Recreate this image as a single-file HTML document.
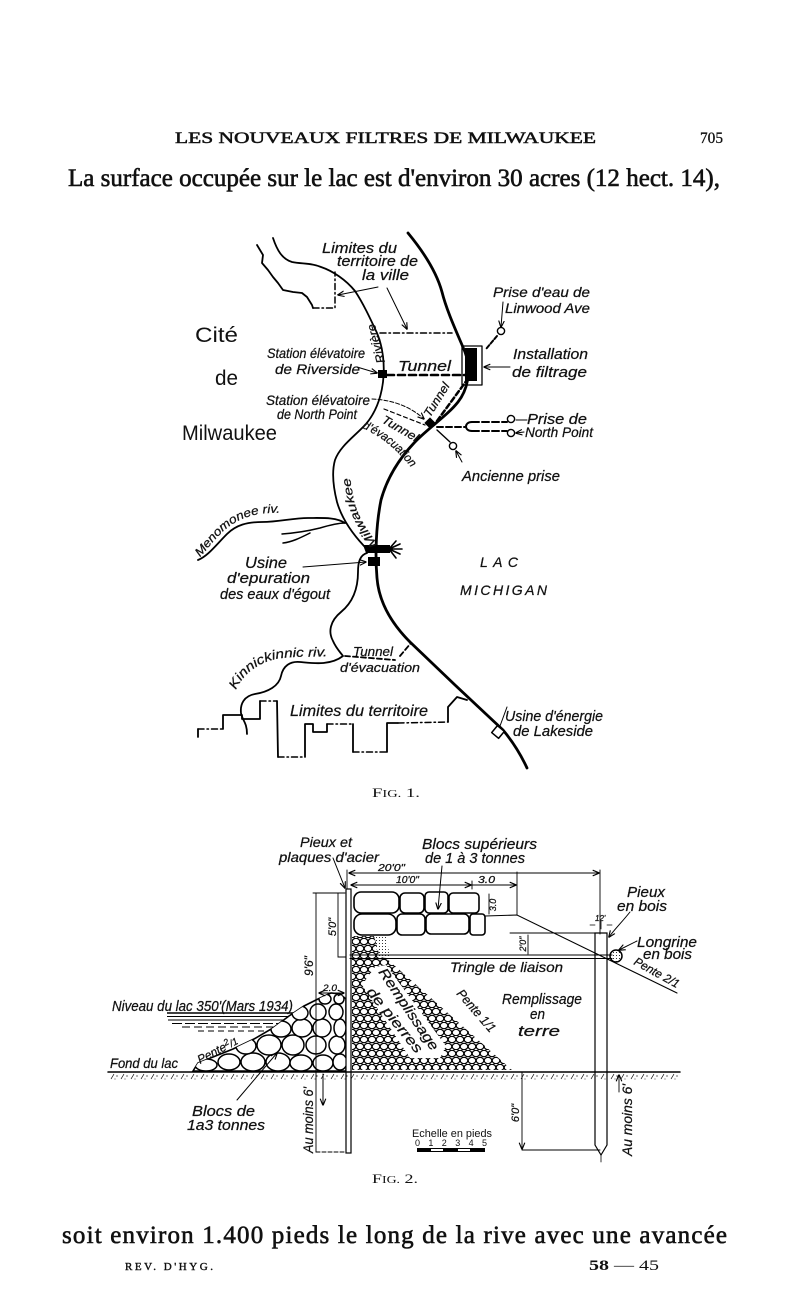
<!DOCTYPE html>
<html><head><meta charset="utf-8"><style>
html,body{margin:0;padding:0;background:#fff;}
svg{display:block}
.s{font-family:"Liberation Serif",serif;fill:#111;}
.h{font-family:"Liberation Sans",sans-serif;font-style:italic;fill:#111;stroke:#111;stroke-width:0.25;}
.u{font-family:"Liberation Sans",sans-serif;fill:#111;}
</style></head><body>
<svg width="800" height="1304" viewBox="0 0 800 1304" xmlns="http://www.w3.org/2000/svg">
<defs>
<marker id="a" viewBox="0 0 10 10" refX="9" refY="5" markerWidth="7" markerHeight="7" orient="auto-start-reverse" markerUnits="userSpaceOnUse"><path d="M0,1 L10,5 L0,9" fill="none" stroke="#000" stroke-width="1.6"/></marker>
<pattern id="peb" width="16" height="14" patternUnits="userSpaceOnUse">
<g fill="#fff" stroke="#000" stroke-width="1.2">
<ellipse cx="4" cy="3.5" rx="3.8" ry="3.2"/><ellipse cx="12" cy="3.5" rx="3.8" ry="3.2"/>
<ellipse cx="0" cy="10.5" rx="3.8" ry="3.2"/><ellipse cx="8" cy="10.5" rx="3.8" ry="3.2"/><ellipse cx="16" cy="10.5" rx="3.8" ry="3.2"/>
</g></pattern>
<pattern id="gh" width="10" height="8" patternUnits="userSpaceOnUse"><path d="M1,7 L4,2" stroke="#000" stroke-width="0.7"/><circle cx="7" cy="4" r="0.6" fill="#000"/><circle cx="5" cy="7" r="0.45" fill="#000"/></pattern>
<pattern id="dt" width="3" height="3" patternUnits="userSpaceOnUse"><circle cx="1.5" cy="1.5" r="0.55" fill="#000"/></pattern>
<mask id="pm" maskUnits="userSpaceOnUse" x="340" y="925" width="190" height="150">
<polygon points="352,936 374,936 380,957 386,958 512,1070 352,1070" fill="#fff"/>
<polygon points="362,985 375,967 386,965 446,1046 440,1058 410,1058" fill="#000"/>
</mask>
<clipPath id="pc"><path d="M193,1071 L198,1063 L213,1057 L233,1049 L254,1039 L273,1028 L289,1016 L304,1006 L318,999 L331,993 L340,994 L346,999 L346,1071 Z"/></clipPath>
<path id="pMen" d="M200,557 C210,547 220,530 238,521 C250,515 262,512 284,513"/>
<path id="pMil" d="M378,545 C368,530 358,518 354,500 C352,490 350,480 349,466"/>
<path id="pKin" d="M236,690 C244,672 262,660 283,658 C300,656 316,657 336,656"/>
<path id="pEva" d="M362,428 Q395,442 420,480"/>
</defs>

<!-- HEADER -->
<text class="s" x="175" y="143" font-size="16" textLength="421" lengthAdjust="spacingAndGlyphs" stroke="#111" stroke-width="0.5">LES NOUVEAUX FILTRES DE MILWAUKEE</text>
<text class="s" x="700" y="143" font-size="16" textLength="23" lengthAdjust="spacingAndGlyphs" stroke="#111" stroke-width="0.3">705</text>
<text class="s" x="68" y="186" font-size="25" textLength="652" lengthAdjust="spacingAndGlyphs" stroke="#111" stroke-width="0.6">La surface occupée sur le lac est d'environ 30 acres (12 hect. 14),</text>

<!-- FIG 1 -->
<g fill="none" stroke="#000" stroke-linecap="round" stroke-linejoin="round">
<path d="M408,233 C422,250 436,270 442,292 C447,312 458,335 465,352 C471,368 469,388 458,402 C447,416 428,428 414,443 C399,459 387,478 381,500 C376,525 375,555 377,578 C379,603 392,624 410,642 L455,685 L503,730 C513,742 521,755 527,768" stroke-width="2.8"/>
<path d="M273,238 C277,250 282,259 292,262 C302,264 312,263 321,267 C333,271 346,280 355,291 C363,303 370,318 377,333 C383,347 385,365 383,382 C381,398 376,412 366,424 C355,436 340,446 335,460 C331,474 334,490 337,502 C341,516 350,531 364,546" stroke-width="1.8"/>
<path d="M367,553 C360,555 358,562 358,572 C358,590 352,603 341,612 C330,621 328,632 333,641 C336,648 340,652 343,656 C330,666 312,663 300,662 C290,661 283,666 281,676 C279,686 268,692 255,694 C244,696 240,704 241,713 C242,720 247,722 247,734" stroke-width="1.8"/>
<path d="M198,560 C208,556 216,545 227,534 C236,525 247,522 262,522 C280,522 292,518 308,518 C322,518 336,517 345,523" stroke-width="1.8"/>
<path d="M282,534 C295,533 308,531 320,528 C330,525 338,523 345,523 M283,543 C292,542 300,538 310,533" stroke-width="1.5"/>
<path d="M257,245 L263,255 L262,263 L268,270 L273,277 L278,283 L283,290 L293,292 L302,293 L307,297 L312,305 L313,308" stroke-width="1.8"/>
<path d="M313,308 L335,308 L335,272 M380,333 L452,333" stroke-width="1.5" stroke-dasharray="6,3,1.5,3"/>
<path d="M198,737 L198,729 M223,729 L223,715 L242,715 L242,719 L260,719 L260,701 M277,701 L278,757 M305,757 L305,724 L313,724 L313,732 L327,732 L327,724 M353,724 L353,752 M387,752 L387,723 L398,723 M448,722 L448,707 L457,697 L467,700" stroke-width="1.8"/>
<path d="M198,729 L223,729 M260,701 L277,701 M278,757 L305,757 M327,724 L353,724 M353,752 L387,752 M398,723 L448,722" stroke-width="1.5" stroke-dasharray="6,3,1.5,3"/>
<path d="M378,287 L338,295" stroke-width="1" marker-end="url(#a)"/>
<path d="M387,288 L407,329" stroke-width="1" marker-end="url(#a)"/>
<path d="M357,367 L377,373" stroke-width="1" marker-end="url(#a)"/>
<path d="M510,367 L484,367" stroke-width="1" marker-end="url(#a)"/>
<path d="M503,302 L501,327" stroke-width="1" marker-end="url(#a)"/>
<path d="M372,399 C395,400 412,408 424,419" stroke-width="1" stroke-dasharray="4,2" marker-end="url(#a)"/>
<path d="M527,420 L516,420 M524,432 L516,433" stroke-width="1" marker-end="url(#a)"/>
<path d="M462,462 L456,451" stroke-width="1" marker-end="url(#a)"/>
<path d="M303,567 L366,562" stroke-width="1" marker-end="url(#a)"/>
<path d="M507,707 L500,726" stroke-width="1"/>
<path d="M387,375 L465,375" stroke-width="2.6" stroke-dasharray="7,4"/>
<path d="M437,421 L467,380" stroke-width="2.5" stroke-dasharray="5,3"/>
<path d="M437,427 L465,427" stroke-width="2" stroke-dasharray="6,3"/>
<path d="M472,422 L507,422 M472,431 L507,431" stroke-width="2" stroke-dasharray="7,3"/>
<path d="M472,422 C464,422 464,431 472,431" stroke-width="2"/>
<path d="M497,336 L486,349" stroke-width="2" stroke-dasharray="4,2"/>
<path d="M437,430 L450,442" stroke-width="1.4"/>
<path d="M384,409 L425,425" stroke-width="1.2" stroke-dasharray="4,3"/>
<path d="M345,656 L395,660 M400,656 L411,643" stroke-width="1.8" stroke-dasharray="5,3"/>
<circle cx="501" cy="331" r="3.6" stroke-width="1.4" fill="#fff"/>
<circle cx="511" cy="419" r="3.6" stroke-width="1.4" fill="#fff"/>
<circle cx="511" cy="433" r="3.6" stroke-width="1.4" fill="#fff"/>
<circle cx="453" cy="446" r="3.6" stroke-width="1.4" fill="#fff"/>
<rect x="462" y="346" width="20" height="39" stroke-width="1.3"/>
<path d="M389,549 L396,541 M389,549 L400,544 M389,549 L402,549 M389,549 L400,554 M389,549 L396,558" stroke-width="1.6"/>
<rect x="-4.5" y="-4.5" width="9" height="9" transform="translate(498,732) rotate(40)" stroke-width="1.5" fill="#fff"/>
</g>
<rect x="465" y="348" width="12" height="33" fill="#000"/>
<rect x="378" y="370" width="9" height="8" fill="#000"/>
<rect x="-4" y="-4" width="8" height="8" transform="translate(430,423) rotate(45)" fill="#000"/>
<path d="M363,545 L390,545 L390,553 L366,553 Z" fill="#000"/>
<rect x="368" y="557" width="12" height="9" fill="#000"/>

<g class="h" font-size="14">
<text x="322" y="253" font-size="15" textLength="75" lengthAdjust="spacingAndGlyphs">Limites du</text>
<text x="337" y="266" font-size="15" textLength="81" lengthAdjust="spacingAndGlyphs">territoire de</text>
<text x="362" y="280" font-size="15" textLength="47" lengthAdjust="spacingAndGlyphs">la ville</text>
<text x="267" y="358" textLength="98" lengthAdjust="spacingAndGlyphs">Station élévatoire</text>
<text x="275" y="374" textLength="85" lengthAdjust="spacingAndGlyphs">de Riverside</text>
<text x="398" y="371" font-size="15" textLength="53" lengthAdjust="spacingAndGlyphs">Tunnel</text>
<text x="493" y="297" textLength="97" lengthAdjust="spacingAndGlyphs">Prise d'eau de</text>
<text x="505" y="313" textLength="85" lengthAdjust="spacingAndGlyphs">Linwood Ave</text>
<text x="513" y="359" font-size="15" textLength="75" lengthAdjust="spacingAndGlyphs">Installation</text>
<text x="512" y="377" font-size="15" textLength="75" lengthAdjust="spacingAndGlyphs">de filtrage</text>
<text x="266" y="405" textLength="104" lengthAdjust="spacingAndGlyphs">Station élévatoire</text>
<text x="277" y="419" textLength="80" lengthAdjust="spacingAndGlyphs">de North Point</text>
<text x="527" y="424" font-size="15" textLength="60" lengthAdjust="spacingAndGlyphs">Prise de</text>
<text x="525" y="437" textLength="68" lengthAdjust="spacingAndGlyphs">North Point</text>
<text x="462" y="481" font-size="15" textLength="98" lengthAdjust="spacingAndGlyphs">Ancienne prise</text>
<text transform="translate(430,418) rotate(-58)" font-size="12" textLength="38" lengthAdjust="spacingAndGlyphs">Tunnel</text>
<text transform="translate(381,422) rotate(30)" font-size="12" textLength="40" lengthAdjust="spacingAndGlyphs">Tunnel</text>
<text font-size="12"><textPath href="#pEva" textLength="64" lengthAdjust="spacingAndGlyphs">d'évacuation</textPath></text>
<text transform="translate(385,362) rotate(-105)" font-size="12" textLength="40" lengthAdjust="spacingAndGlyphs">Rivière</text>
<text font-size="12"><textPath href="#pMil" textLength="74" lengthAdjust="spacingAndGlyphs">Milwaukee</textPath></text>
<text font-size="12"><textPath href="#pMen" textLength="96" lengthAdjust="spacingAndGlyphs">Menomonee riv.</textPath></text>
<text font-size="13"><textPath href="#pKin" textLength="104" lengthAdjust="spacingAndGlyphs">Kinnickinnic riv.</textPath></text>
<text x="245" y="568" font-size="16" textLength="42" lengthAdjust="spacingAndGlyphs">Usine</text>
<text x="227" y="583" font-size="15" textLength="83" lengthAdjust="spacingAndGlyphs">d'epuration</text>
<text x="220" y="599" font-size="15" textLength="110" lengthAdjust="spacingAndGlyphs">des eaux d'égout</text>
<text x="353" y="656" font-size="13" textLength="40" lengthAdjust="spacingAndGlyphs">Tunnel</text>
<text x="340" y="672" font-size="13" textLength="80" lengthAdjust="spacingAndGlyphs">d'évacuation</text>
<text x="290" y="716" font-size="16" textLength="138" lengthAdjust="spacingAndGlyphs">Limites du territoire</text>
<text x="505" y="721" font-size="15" textLength="98" lengthAdjust="spacingAndGlyphs">Usine d'énergie</text>
<text x="513" y="736" font-size="15" textLength="80" lengthAdjust="spacingAndGlyphs">de Lakeside</text>
<text x="480" y="567" font-size="14" textLength="38" lengthAdjust="spacing">LAC</text>
<text x="460" y="595" font-size="14" textLength="87" lengthAdjust="spacing">MICHIGAN</text>
</g>
<g class="u" font-size="21">
<text x="195" y="342" textLength="43" lengthAdjust="spacingAndGlyphs">Cité</text>
<text x="215" y="385" textLength="23" lengthAdjust="spacingAndGlyphs">de</text>
<text x="182" y="440" textLength="95" lengthAdjust="spacingAndGlyphs">Milwaukee</text>
</g>
<text class="s" x="372" y="797" font-size="13" textLength="48" lengthAdjust="spacingAndGlyphs">F<tspan font-size="10">IG.</tspan> 1.</text>

<!-- FIG 2 -->
<g stroke="#000" fill="none">
<line x1="167" y1="1013" x2="302" y2="1013" stroke-width="1.6"/>
<line x1="167" y1="1016.5" x2="296" y2="1016.5" stroke-width="1"/>
<line x1="168" y1="1020" x2="290" y2="1020" stroke-width="1"/>
<line x1="172" y1="1023.5" x2="284" y2="1023.5" stroke-dasharray="10,3"/>
<line x1="182" y1="1027" x2="276" y2="1027" stroke-dasharray="8,4"/>
<line x1="198" y1="1031" x2="266" y2="1031" stroke-dasharray="6,4"/>
</g>
<path d="M193,1071 L198,1063 L213,1057 L233,1049 L254,1039 L273,1028 L289,1016 L304,1006 L318,999 L331,993 L340,994 L346,999 L346,1071 Z" fill="#fff" stroke="#000" stroke-width="1.6"/>
<g clip-path="url(#pc)" fill="#fff" stroke="#000" stroke-width="1.5">
<ellipse cx="206" cy="1065" rx="11" ry="6"/><ellipse cx="229" cy="1062" rx="11" ry="8"/><ellipse cx="253" cy="1062" rx="12" ry="9"/>
<ellipse cx="278" cy="1062" rx="12" ry="9"/><ellipse cx="301" cy="1063" rx="11" ry="8"/><ellipse cx="323" cy="1063" rx="10" ry="8"/><ellipse cx="340" cy="1062" rx="7" ry="8"/>
<ellipse cx="246" cy="1046" rx="10" ry="8"/><ellipse cx="269" cy="1045" rx="12" ry="10"/><ellipse cx="293" cy="1045" rx="11" ry="10"/><ellipse cx="316" cy="1045" rx="10" ry="9"/><ellipse cx="337" cy="1045" rx="8" ry="9"/>
<ellipse cx="281" cy="1029" rx="10" ry="8"/><ellipse cx="302" cy="1028" rx="10" ry="9"/><ellipse cx="322" cy="1028" rx="9" ry="9"/><ellipse cx="340" cy="1028" rx="6" ry="9"/>
<ellipse cx="300" cy="1013" rx="8" ry="7"/><ellipse cx="318" cy="1012" rx="8" ry="8"/><ellipse cx="336" cy="1012" rx="7" ry="8"/>
<ellipse cx="325" cy="999" rx="6" ry="5"/><ellipse cx="339" cy="999" rx="5" ry="5"/>
</g>
<rect x="350" y="930" width="170" height="142" fill="url(#peb)" mask="url(#pm)"/>
<path d="M374,936 L386,936 L390,956 L378,956 Z" fill="url(#dt)"/>
<g fill="#fff" stroke="#000" stroke-width="1.6">
<rect x="354" y="892" width="45" height="21" rx="7"/><rect x="400" y="893" width="24" height="20" rx="5"/>
<rect x="425" y="892" width="23" height="21" rx="4"/><rect x="449" y="893" width="30" height="20" rx="4"/>
<rect x="354" y="914" width="42" height="21" rx="8"/><rect x="397" y="914" width="28" height="21" rx="5"/>
<rect x="426" y="914" width="43" height="20" rx="5"/><rect x="470" y="914" width="15" height="21" rx="3"/>
<rect x="346" y="889" width="5" height="264" stroke-width="1.2"/>
<path d="M595,933 L595,1145 L601,1155 L607,1145 L607,933 Z" stroke-width="1.2"/>
</g>
<g fill="none" stroke="#000" stroke-linecap="round">
<path d="M108,1072 L680,1072" stroke-width="1.5"/>
<path d="M350,955 L612,955 M350,958.5 L612,958.5" stroke-width="1.1"/>
<path d="M485,916 L517,915 L677,993" stroke-width="1.1"/>
<path d="M601,1155 L601,1162" stroke-width="0.8"/>
<path d="M349,873 L599,873" stroke-width="0.9" marker-start="url(#a)" marker-end="url(#a)"/>
<path d="M351,885 L471,885" stroke-width="0.9" marker-start="url(#a)" marker-end="url(#a)"/>
<path d="M472,885 L516,885" stroke-width="0.9" marker-end="url(#a)"/>
<path d="M472,881 L472,889 M347,870 L347,889 M600,870 L600,934 M517,872 L517,915" stroke-width="0.9"/>
<path d="M313,893 L345,893 M316,893 L316,1152 M338,893 L338,957 L346,957" stroke-width="0.9"/>
<path d="M319,993 L344,993" stroke-width="0.9" marker-start="url(#a)" marker-end="url(#a)"/>
<path d="M316,1152 L346,1152" stroke-width="1" stroke-dasharray="4,2"/>
<path d="M323,1074 L323,1105" stroke-width="1" marker-end="url(#a)"/>
<path d="M510,933 L600,933 M528,935 L528,954" stroke-width="0.9"/>
<path d="M489,894 L489,914" stroke-width="0.9"/>
<path d="M522,1072 L522,1149" stroke-width="0.9" marker-end="url(#a)"/>
<path d="M522,1150 L600,1150" stroke-width="0.9"/>
<path d="M619,1092 L619,1075" stroke-width="0.9" marker-end="url(#a)"/>
<path d="M590,925 L595,925 M612,925 L607,925 M601,921 L601,929" stroke-width="0.8"/>
<path d="M333,858 L345,888" stroke-width="1" marker-end="url(#a)"/>
<path d="M442,866 L438,909" stroke-width="1" marker-end="url(#a)"/>
<path d="M630,912 C622,922 614,930 609,937" stroke-width="1" marker-end="url(#a)"/>
<path d="M637,941 L619,950" stroke-width="1" marker-end="url(#a)"/>
<path d="M237,1100 L277,1053" stroke-width="1" marker-end="url(#a)"/>
</g>
<circle cx="616" cy="956" r="6" fill="url(#dt)" stroke="#000" stroke-width="1.5"/>
<rect x="108" y="1073" width="572" height="8" fill="url(#gh)"/>
<rect x="417" y="1148" width="68" height="4" fill="#000"/>
<rect x="431" y="1149" width="12" height="2" fill="#fff"/><rect x="458" y="1149" width="12" height="2" fill="#fff"/>

<g class="h" font-size="14">
<text x="300" y="847" textLength="52" lengthAdjust="spacingAndGlyphs">Pieux et</text>
<text x="279" y="862" textLength="100" lengthAdjust="spacingAndGlyphs">plaques d'acier</text>
<text x="422" y="849" font-size="15" textLength="115" lengthAdjust="spacingAndGlyphs">Blocs supérieurs</text>
<text x="425" y="863" font-size="15" textLength="100" lengthAdjust="spacingAndGlyphs">de 1 à 3 tonnes</text>
<text x="378" y="871" font-size="10" textLength="27" lengthAdjust="spacingAndGlyphs">20'0"</text>
<text x="396" y="883" font-size="10" textLength="23" lengthAdjust="spacingAndGlyphs">10'0"</text>
<text x="478" y="883" font-size="10" textLength="17" lengthAdjust="spacingAndGlyphs">3.0</text>
<text x="595" y="921" font-size="8">12'</text>
<text x="627" y="897" font-size="15" textLength="38" lengthAdjust="spacingAndGlyphs">Pieux</text>
<text x="617" y="911" font-size="15" textLength="50" lengthAdjust="spacingAndGlyphs">en bois</text>
<text x="637" y="947" font-size="15" textLength="60" lengthAdjust="spacingAndGlyphs">Longrine</text>
<text x="643" y="959" font-size="15" textLength="49" lengthAdjust="spacingAndGlyphs">en bois</text>
<text transform="translate(633,964) rotate(29)" font-size="12" textLength="50" lengthAdjust="spacingAndGlyphs">Pente 2/1</text>
<text x="450" y="972" textLength="113" lengthAdjust="spacingAndGlyphs">Tringle de liaison</text>
<text x="502" y="1004" font-size="15" textLength="80" lengthAdjust="spacingAndGlyphs">Remplissage</text>
<text x="530" y="1019" font-size="15" textLength="15" lengthAdjust="spacingAndGlyphs">en</text>
<text x="518" y="1036" font-size="15" textLength="42" lengthAdjust="spacingAndGlyphs">terre</text>
<text transform="translate(456,994) rotate(49)" font-size="13" textLength="52" lengthAdjust="spacingAndGlyphs">Pente 1/1</text>
<text transform="translate(378,972) rotate(56)" font-size="14" textLength="96" lengthAdjust="spacingAndGlyphs">Remplissage</text>
<text transform="translate(366,992) rotate(51)" font-size="14" textLength="80" lengthAdjust="spacingAndGlyphs">de pierres</text>
<text x="112" y="1011" font-size="15" textLength="181" lengthAdjust="spacingAndGlyphs">Niveau du lac 350'(Mars 1934)</text>
<text transform="translate(200,1064) rotate(-28)" font-size="12" textLength="44" lengthAdjust="spacingAndGlyphs">Pente<tspan dy="-4" font-size="9">2</tspan><tspan dy="4" font-size="10">/1</tspan></text>
<text x="110" y="1068" textLength="68" lengthAdjust="spacingAndGlyphs">Fond du lac</text>
<text x="192" y="1116" font-size="15" textLength="63" lengthAdjust="spacingAndGlyphs">Blocs de</text>
<text x="187" y="1130" font-size="15" textLength="78" lengthAdjust="spacingAndGlyphs">1a3 tonnes</text>
<text transform="translate(313,1120) rotate(-90)" text-anchor="middle" font-size="14" textLength="66" lengthAdjust="spacingAndGlyphs">Au moins 6'</text>
<text transform="translate(632,1120) rotate(-90)" text-anchor="middle" font-size="14" textLength="72" lengthAdjust="spacingAndGlyphs">Au moins 6'</text>
<text transform="translate(313,966) rotate(-90)" text-anchor="middle" font-size="12">9'6"</text>
<text transform="translate(336,927) rotate(-90)" text-anchor="middle" font-size="11">5'0"</text>
<text transform="translate(526,944) rotate(-90)" text-anchor="middle" font-size="9">2'0"</text>
<text transform="translate(496,905) rotate(-90)" text-anchor="middle" font-size="9">3.0</text>
<text transform="translate(519,1113) rotate(-90)" text-anchor="middle" font-size="11">6'0"</text>
<text x="323" y="991" font-size="9" textLength="14" lengthAdjust="spacingAndGlyphs">2.0</text>
</g>
<g class="u">
<text x="412" y="1137" font-size="11" textLength="80" lengthAdjust="spacingAndGlyphs">Echelle en pieds</text>
<text x="415" y="1146" font-size="9" textLength="72" lengthAdjust="spacing">0 1 2 3 4 5</text>
</g>
<text class="s" x="372" y="1183" font-size="13" textLength="46" lengthAdjust="spacingAndGlyphs">F<tspan font-size="10">IG.</tspan> 2.</text>

<!-- FOOTER -->
<text class="s" x="62" y="1243" font-size="25" textLength="665" lengthAdjust="spacing" stroke="#111" stroke-width="0.6">soit environ 1.400 pieds le long de la rive avec une avancée</text>
<text class="s" x="125" y="1270" font-size="11" textLength="88" lengthAdjust="spacing" stroke="#111" stroke-width="0.4">REV. D'HYG.</text>
<text class="s" x="589" y="1270" font-size="15" textLength="70" lengthAdjust="spacingAndGlyphs"><tspan font-weight="bold">58</tspan> — 45</text>
</svg>
</body></html>
